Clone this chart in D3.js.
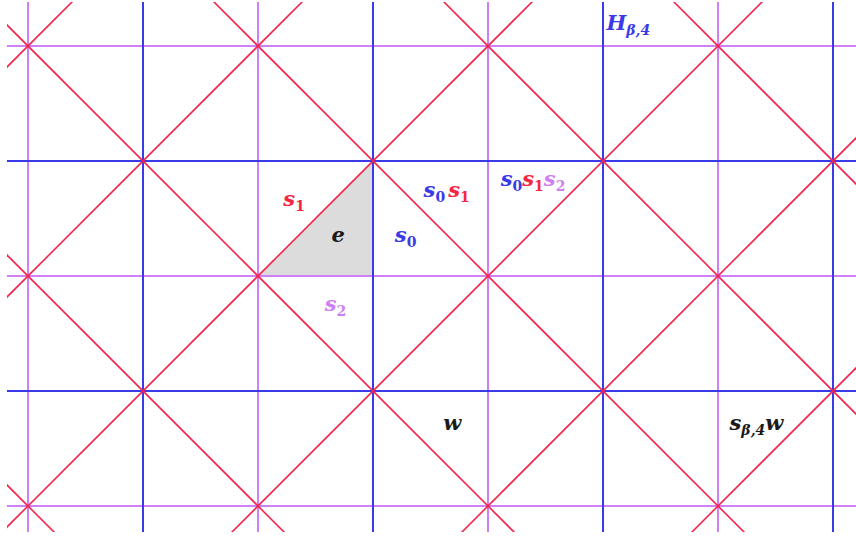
<!DOCTYPE html>
<meta charset="utf-8">
<html>
<head>
	<title>alcoves</title>
	<script src="https://cdn.jsdelivr.net/npm/d3@7/dist/d3.min.js"></script>
	<style>
		body { margin: 0; background: #fff; }
		svg text { font-family: "DejaVu Serif", "Liberation Serif", serif; font-weight: bold; font-style: italic; }
	</style>
</head>
<body>
	<svg id="grid" width="856" height="538"></svg>
	<script>
		// grid lines, in lattice units
		var violetX = [0, 2, 4, 6],
			blueX = [1, 3, 5, 7],
			violetY = [0, 2, 4],
			blueY = [1, 3],
			diagDown = [-4, -2, 0, 2, 4, 6],     // u - v = k
			diagUp = [0, 2, 4, 6, 8, 10, 12];    // u + v = k

		// shaded fundamental alcove e
		var alcove = [[2, 2], [3, 1], [3, 2]];

		// labels: pieces of [text, colour, sub?, gap]
		var labels = [
			{ u: 2.22, v: 1.39, parts: [["s", "red"], ["1", "red", 1]] },
			{ u: 2.64, v: 1.70, parts: [["e", "black"]] },
			{ u: 3.19, v: 1.70, parts: [["s", "blue"], ["0", "blue", 1]] },
			{ u: 3.44, v: 1.31, parts: [["s", "blue"], ["0", "blue", 1], ["s", "red", 0, 3], ["1", "red", 1]] },
			{ u: 4.11, v: 1.22, parts: [["s", "blue"], ["0", "blue", 1], ["s", "red"], ["1", "red", 1], ["s", "violet"], ["2", "violet", 1]] },
			{ u: 2.58, v: 2.30, parts: [["s", "violet"], ["2", "violet", 1]] },
			{ u: 5.03, v: -0.14, parts: [["H", "blue"], ["β,4", "blue", 1]] },
			{ u: 3.61, v: 3.34, parts: [["w", "black"]] },
			{ u: 6.10, v: 3.34, parts: [["s", "black"], ["β,4", "black", 1], ["w", "black"]] }
		];

		var colors = { red: "#f5263f", blue: "#3a3ae8", violet: "#cf80f5", black: "#1a1a1a" };
		var lineRed = "#f2244c";

		var x = d3.scaleLinear().domain([0, 1]).range([28, 143]),
			y = d3.scaleLinear().domain([0, 1]).range([46, 161]);

		var svg = d3.select("#grid");

		svg.append("clipPath")
			.attr("id", "clip")
			.append("rect")
			.attr("x", 7).attr("y", 2)
			.attr("width", 849).attr("height", 530);

		var g = svg.append("g").attr("clip-path", "url(#clip)");

		g.append("path")
			.attr("d", d3.line().x(function (d) { return x(d[0]); }).y(function (d) { return y(d[1]); })(alcove) + "Z")
			.attr("fill", "#dcdcdc");

		function vlines(data, col, w) {
			g.selectAll(null).data(data).enter().append("line")
				.attr("x1", function (d) { return x(d); }).attr("x2", function (d) { return x(d); })
				.attr("y1", y(-1)).attr("y2", y(6))
				.attr("stroke", col).attr("stroke-width", w);
		}
		function hlines(data, col, w) {
			g.selectAll(null).data(data).enter().append("line")
				.attr("y1", function (d) { return y(d); }).attr("y2", function (d) { return y(d); })
				.attr("x1", x(-1)).attr("x2", x(9))
				.attr("stroke", col).attr("stroke-width", w);
		}

		hlines(violetY, colors.violet, 2);
		vlines(violetX, colors.violet, 2);
		hlines(blueY, colors.blue, 2);
		vlines(blueX, colors.blue, 2);

		// red diagonals on top
		g.selectAll("line.down").data(diagDown).enter().append("line")
			.attr("class", "down")
			.attr("x1", x(-2)).attr("y1", function (d) { return y(-2 - d); })
			.attr("x2", x(10)).attr("y2", function (d) { return y(10 - d); })
			.attr("stroke", lineRed).attr("stroke-width", 1.6);

		g.selectAll("line.up").data(diagUp).enter().append("line")
			.attr("class", "up")
			.attr("x1", x(-2)).attr("y1", function (d) { return y(d + 2); })
			.attr("x2", x(14)).attr("y2", function (d) { return y(d - 14); })
			.attr("stroke", lineRed).attr("stroke-width", 1.6);

		// labels
		labels.forEach(function (l) {
			var t = svg.append("text")
				.attr("x", x(l.u)).attr("y", y(l.v))
				.attr("font-size", "21px");
			var lastSub = false;
			l.parts.forEach(function (p) {
				var sub = !!p[2];
				var ts = t.append("tspan")
					.attr("fill", colors[p[1]])
					.text(p[0]);
				if (p[3]) ts.attr("dx", p[3]);
				if (sub) {
					ts.attr("font-size", "14px");
					if (/^[0-9]$/.test(p[0])) ts.attr("font-style", "normal");
				}
				if (sub !== lastSub) ts.attr("dy", sub ? 5 : -5);
				lastSub = sub;
			});
		});
	</script>
</body>
</html>
